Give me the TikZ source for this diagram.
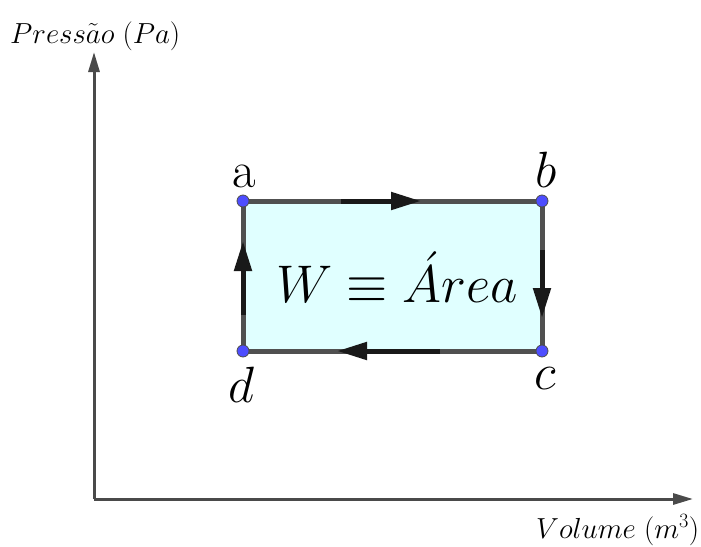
\RequirePackage{fix-cm}
\documentclass[tikz,border=0pt]{standalone}
\usetikzlibrary{arrows.meta}
\definecolor{axisgray}{HTML}{4A4A4A}
\definecolor{edgegray}{HTML}{505050}
\definecolor{areafill}{HTML}{E0FFFF}
\definecolor{ptblue}{HTML}{4D4DFF}
\begin{document}
\begin{tikzpicture}[x=1pt,y=-1pt,
  axis/.style={draw=axisgray,line width=3pt,-{Triangle[length=20pt,width=11pt]}},
  edge/.style={draw=edgegray,line width=5pt},
  dirarrow/.style={draw=black!90,line width=5pt,-{Triangle[length=30pt,width=17pt]}},
  vertex/.style={circle,fill=ptblue,draw=black!70,line width=0.8pt,inner sep=0pt,minimum size=12pt},
  axlabel/.style={font=\fontsize{29}{31}\selectfont,inner sep=0pt},
  ptlabel/.style={font=\fontsize{51}{53}\selectfont,inner sep=0pt},
  arealabel/.style={font=\fontsize{53}{55}\selectfont,inner sep=0pt}]
\useasboundingbox (0,0) rectangle (701,546);
% axes
\coordinate (O) at (94,499);
\coordinate (Ytip) at (94,52);
\coordinate (Xtip) at (693,499);
\draw[axis] (O) -- (Ytip);
\draw[axis] (O) -- (Xtip);
\node[axlabel,anchor=base west] (ylab) at (10,43) {$Press\tilde{a}o\;(Pa)$};
\node[axlabel,anchor=base west] (xlab) at (536,538) {$Volume\;(m^3)$};
% cycle corners
\coordinate (A) at (243,201);
\coordinate (B) at (542,201);
\coordinate (C) at (542,351);
\coordinate (D) at (243,351);
\fill[areafill] (A) rectangle (C);
\draw[edge,line join=miter] (A) -- (B) -- (C) -- (D) -- cycle;
% direction arrows
\coordinate (ab1) at (341,201); \coordinate (ab2) at (421,201);
\coordinate (bc1) at (542,250); \coordinate (bc2) at (542,318);
\coordinate (cd1) at (440,351); \coordinate (cd2) at (337,351);
\coordinate (da1) at (243,315); \coordinate (da2) at (243,241);
\draw[dirarrow] (ab1) -- (ab2);
\draw[dirarrow] (bc1) -- (bc2);
\draw[dirarrow] (cd1) -- (cd2);
\draw[dirarrow] (da1) -- (da2);
% vertices
\node[vertex] (a) at (A) {};
\node[vertex] (b) at (B) {};
\node[vertex] (c) at (C) {};
\node[vertex] (d) at (D) {};
\node[ptlabel,anchor=base] (la) at (244,187) {a};
\node[ptlabel,anchor=base] (lb) at (546,187) {$b$};
\node[ptlabel,anchor=base] (lc) at (545,389) {$c$};
\node[ptlabel,anchor=base] (ld) at (241,402) {$d$};
\node[arealabel,anchor=base] (W) at (397,302) {$W\equiv\acute{A}rea$};
\end{tikzpicture}
\end{document}
